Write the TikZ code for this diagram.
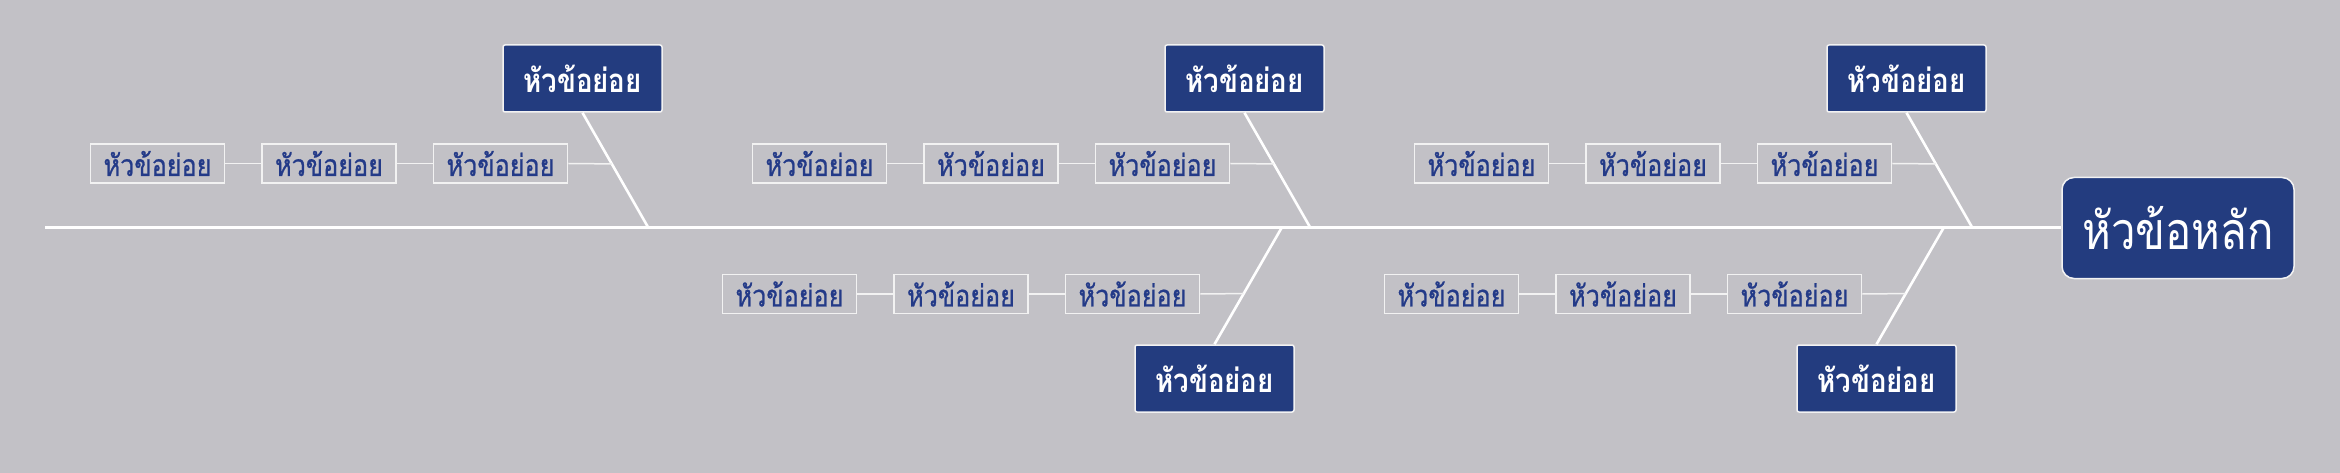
\documentclass[tikz,border=0pt]{standalone}
\usepackage{fontspec}
\newfontfamily\thaifont[Script=Thai,FakeStretch=0.84]{Loma}
\newfontfamily\thaileaf[Script=Thai,FakeStretch=0.84,FakeBold=0.8]{Loma}
\usetikzlibrary{calc}
\definecolor{bgc}{HTML}{C2C1C6}
\definecolor{navy}{HTML}{233C7F}
\definecolor{txtblue}{HTML}{233A88}
\definecolor{edgec}{HTML}{F2F2F2}
\begin{document}
\begin{tikzpicture}[x=1pt,y=-1pt,
  mainbox/.style={draw=edgec, line width=1.5pt, fill=navy, rounded corners=12pt, minimum width=232pt, minimum height=101pt, inner sep=0pt, text=white, font=\thaifont\fontsize{52}{60}\selectfont},
  subbox/.style={draw=edgec, line width=1.5pt, fill=navy, rounded corners=2pt, minimum width=159pt, minimum height=67pt, inner sep=0pt, text=white, font=\thaifont\bfseries\fontsize{33}{38}\selectfont},
  leafbox/.style={draw=edgec, line width=1.8pt, minimum width=134pt, minimum height=39pt, inner sep=0pt, text=txtblue, font=\thaileaf\fontsize{30}{34}\selectfont},
  spine/.style={draw=white, line width=3pt},
  bone/.style={draw=white, line width=2.6pt},
  twig/.style={draw=edgec, line width=1.5pt}]
\fill[bgc] (0,0) rectangle (2340,473);
\useasboundingbox (0,0) rectangle (2340,473);
% main node and spine
\node[mainbox] (main) at (2178,228) {หัวข้อหลัก};
\coordinate (s0) at (45,228);
\draw[spine] (s0) -- (main.west);
% upper branches
\foreach \i/\X in {1/582.5,2/1244.5,3/1906.5} {
  \node[subbox] (t\i) at (\X,78.5) {หัวข้อย่อย};
  \coordinate (tj\i) at (\X+66,228);
  \draw[bone] (t\i.south) -- (tj\i);
  \coordinate (tk\i) at ($(t\i.south)!0.444!(tj\i)$);
  \node[leafbox] (ta\i) at (\X-425,163.5) {หัวข้อย่อย};
  \node[leafbox] (tb\i) at (\X-253.5,163.5) {หัวข้อย่อย};
  \node[leafbox] (tc\i) at (\X-82,163.5) {หัวข้อย่อย};
  \draw[twig] (ta\i.east) -- (tb\i.west);
  \draw[twig] (tb\i.east) -- (tc\i.west);
  \draw[twig] (tc\i.east) -- (tk\i);
}
% lower branches
\foreach \i/\X in {1/1214.5,2/1876.5} {
  \node[subbox] (b\i) at (\X,378.5) {หัวข้อย่อย};
  \coordinate (bj\i) at (\X+67,228);
  \draw[bone] (bj\i) -- (b\i.north);
  \coordinate (bk\i) at ($(bj\i)!0.564!(b\i.north)$);
  \node[leafbox] (ba\i) at (\X-425,294) {หัวข้อย่อย};
  \node[leafbox] (bb\i) at (\X-253.5,294) {หัวข้อย่อย};
  \node[leafbox] (bc\i) at (\X-82,294) {หัวข้อย่อย};
  \draw[twig] (ba\i.east) -- (bb\i.west);
  \draw[twig] (bb\i.east) -- (bc\i.west);
  \draw[twig] (bc\i.east) -- (bk\i);
}
\end{tikzpicture}
\end{document}
